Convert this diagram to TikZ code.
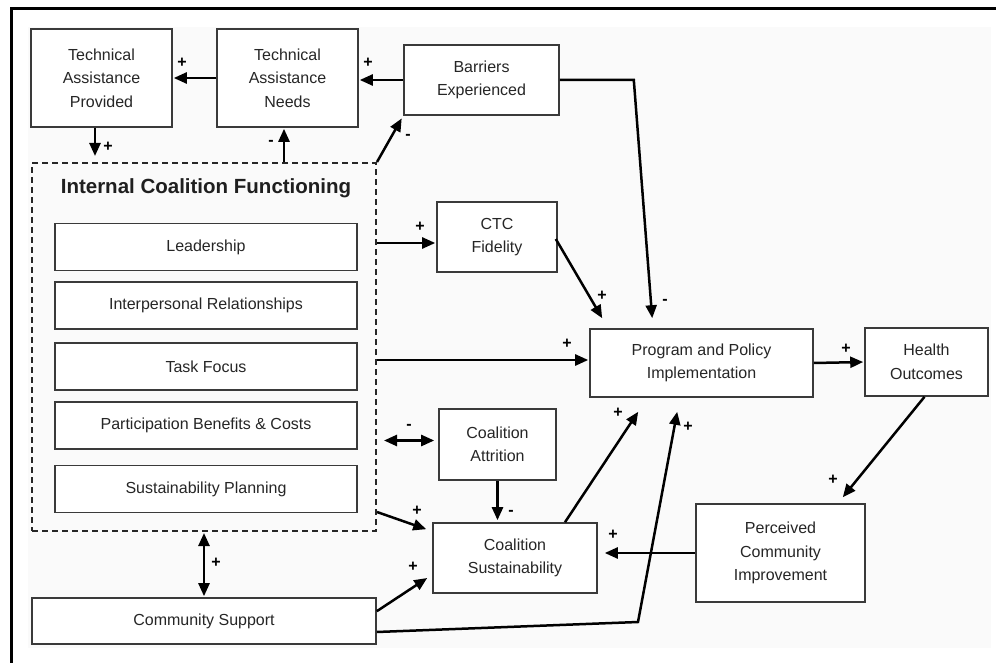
\documentclass[tikz,border=0pt]{standalone}
\usepackage{fontspec}
\setmainfont{Liberation Sans}
\usetikzlibrary{arrows.meta,calc}
\definecolor{boxline}{HTML}{3A3A3A}
\definecolor{txt}{HTML}{262626}
\begin{document}
\begin{tikzpicture}[x=1pt,y=-1pt,
  box/.style={draw=boxline,line width=1.6pt,fill=white,align=center,inner sep=0pt,text=txt,font=\fontsize{16}{23.5}\selectfont},
  arr/.style={line width=2.5pt,-{Triangle[length=13pt,width=11pt]}},
  darr/.style={line width=2.5pt,{Triangle[length=13pt,width=11pt]}-{Triangle[length=13pt,width=11pt]}},
  sgn/.style={font=\fontsize{16}{16}\bfseries\selectfont,inner sep=0pt,text=black}]
\useasboundingbox (0,0) rectangle (996,663);
\fill[black!2] (28,27) rectangle (991,648);
\draw[line width=3pt] (10,9) -- (996,9);
\draw[line width=3pt] (11,8) -- (11,663);

% boxes
\node[box,minimum width=141pt,minimum height=98pt] (tap) at (101.5,78) {Technical\\Assistance\\Provided};
\node[box,minimum width=141pt,minimum height=98pt] (tan) at (287.5,78) {Technical\\Assistance\\Needs};
\node[box,minimum width=155pt,minimum height=70pt] (bar) at (481.5,80) {Barriers\\Experienced};
\node[box,minimum width=120pt,minimum height=70pt] (ctc) at (497,237) {CTC\\Fidelity};
\node[box,minimum width=223pt,minimum height=68pt] (prog) at (701.5,363) {Program and Policy\\Implementation};
\node[box,minimum width=123pt,minimum height=68pt] (hea) at (926.5,362) {Health\\Outcomes};
\node[box,minimum width=117pt,minimum height=71pt] (att) at (497.5,444.5) {Coalition\\Attrition};
\node[box,minimum width=164pt,minimum height=70pt] (sus) at (515,558) {Coalition\\Sustainability};
\node[box,minimum width=169pt,minimum height=98pt] (per) at (780.5,553) {Perceived\\Community\\Improvement};
\node[box,minimum width=344pt,minimum height=46pt] (cs) at (204,621) {Community Support};

% internal coalition functioning
\node[draw=black!85,line width=2pt,dash pattern=on 6pt off 4pt,minimum width=344pt,minimum height=368pt,inner sep=0pt] (icf) at (204,347) {};
\node[font=\fontsize{20.5}{24}\bfseries\selectfont,text=black!88,inner sep=0pt] (ttl) at (206,188) {Internal Coalition Functioning};
\node[box,minimum width=302pt,minimum height=47pt] (lead) at (206,247) {Leadership};
\node[box,minimum width=302pt,minimum height=47pt] (ipr) at (206,305.5) {Interpersonal Relationships};
\node[box,minimum width=302pt,minimum height=47pt] (tf) at (206,366.5) {Task Focus};
\node[box,minimum width=302pt,minimum height=47pt] (pbc) at (206,425.5) {Participation Benefits \& Costs};
\node[box,minimum width=302pt,minimum height=47pt] (sp) at (206,489) {Sustainability Planning};

\coordinate (bend) at (638,622);

% connectors
\draw[arr,shorten >=1pt] (tan.west) -- (tap.east);
\draw[arr,shorten >=1pt] (bar.west) -- (tan.east |- bar.west);
\draw[arr,shorten >=6pt] ([xshift=-6.5pt]tap.south) -- ([xshift=-6.5pt]tap.south |- icf.north);
\draw[arr,shorten >=1pt] ([xshift=-3.5pt]tan.south |- icf.north) -- ([xshift=-3.5pt]tan.south);
\draw[arr,shorten >=3pt] (icf.north east) -- (bar.south west);
\draw[arr,shorten >=1pt] ($(icf.east |- ctc.west)+(0,6)$) -- ($(ctc.west)+(0,6)$);
\draw[arr] ($(ctc.east)+(-2,2)$) -- ($(prog.north west)+(13,-10)$);
\draw[arr] (bar.east) -- ++(74,0) -- ($(prog.north west)+(63,-10)$);
\draw[arr,shorten >=1pt] ($(icf.east |- prog.west)+(0,-3)$) -- ($(prog.west)+(0,-3)$);
\draw[darr,shorten <=7pt,shorten >=4pt] ($(icf.east |- att.west)+(0,-4)$) -- ($(att.west)+(0,-4)$);
\draw[arr,shorten >=2pt] (att.south) -- (att.south |- sus.north);
\draw[arr] ($(icf.east)+(0,165)$) -- ($(sus.north west)+(-6,7)$);
\draw[arr] ($(cs.north east)+(0,14)$) -- ($(sus.west)+(-5,20)$);
\draw[arr] ($(sus.north)+(50,0)$) -- ($(prog.south west)+(49,14)$);
\draw[arr] ($(cs.east)+(0,11)$) -- (bend) -- ($(prog.south west)+(88,14)$);
\draw[arr,shorten >=7pt] (per.west) -- (sus.east |- per.west);
\draw[arr] ($(hea.south)+(-2,0)$) -- ($(per.north east)+(-23,-6)$);
\draw[arr,shorten >=1pt] (prog.east) -- (hea.west);
\draw[darr,shorten <=1pt,shorten >=1pt] (icf.south) -- (icf.south |- cs.north);

% signs
\node[sgn] (s1) at (182,63) {+};
\node[sgn] (s2) at (368,63) {+};
\node[sgn] (s3) at (108,147) {+};
\node[sgn] (s4) at (271,143) {-};
\node[sgn] (s5) at (408,137) {-};
\node[sgn] (s6) at (420,227) {+};
\node[sgn] (s7) at (602,296) {+};
\node[sgn] (s8) at (665,302) {-};
\node[sgn] (s9) at (567,344) {+};
\node[sgn] (s10) at (409,427) {-};
\node[sgn] (s11) at (417,511) {+};
\node[sgn] (s12) at (413,567) {+};
\node[sgn] (s13) at (618,413) {+};
\node[sgn] (s14) at (688,427) {+};
\node[sgn] (s15) at (511,513) {-};
\node[sgn] (s16) at (613,535) {+};
\node[sgn] (s17) at (846,349) {+};
\node[sgn] (s18) at (833,480) {+};
\node[sgn] (s19) at (216,563) {+};
\end{tikzpicture}
\end{document}
